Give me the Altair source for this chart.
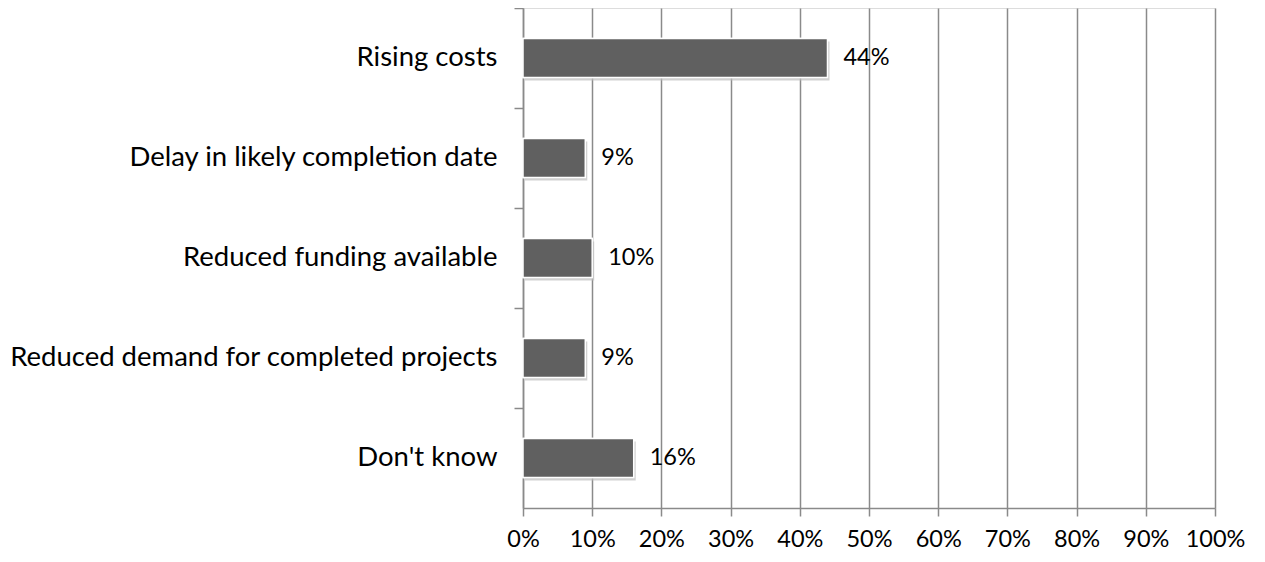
import altair as alt
import pandas as pd

categories = ["Rising costs", "Delay in likely completion date", "Reduced funding available",
              "Reduced demand for completed projects", "Don't know"]
values = [0.44, 0.09, 0.10, 0.09, 0.16]
x_ticks = [0, 0.1, 0.2, 0.3, 0.4, 0.5, 0.6, 0.7, 0.8, 0.9, 1.0]

df = pd.DataFrame({"category": categories, "value": values})
df["label"] = [f"{round(v*100)}%" for v in values]

FONT = "Lato"
GRID = "#8a8a8a"
W, H = 692, 500
BAR = 39

y_scale = alt.Scale(paddingInner=0, paddingOuter=0)
y_enc = alt.Y("category:N", sort=categories, title=None, scale=y_scale,
              axis=alt.Axis(bandPosition=0, tickSize=9, tickColor=GRID, tickWidth=1.5,
                            domainColor=GRID, domainWidth=1.5, labelPadding=17,
                            labelFont=FONT, labelFontSize=27.5, labelColor="#000000",
                            labelLimit=700, grid=False))
x_scale = alt.Scale(domain=[0, 1])
x_enc = alt.X("value:Q", scale=x_scale, title=None,
              axis=alt.Axis(values=x_ticks, format=".0%", tickSize=8, tickColor=GRID,
                            tickWidth=1.5, domainColor=GRID, domainWidth=1.5,
                            gridColor=GRID, gridWidth=1.5, gridOpacity=1,
                            labelOverlap=False, labelFlush=False,
                            labelFont=FONT, labelFontSize=23.5, labelColor="#000000",
                            labelPadding=11))

base = alt.Chart(df)
y_plain = alt.Y("category:N", sort=categories, scale=y_scale)
x_plain = alt.X("value:Q", scale=x_scale)

shadow = base.mark_bar(color="#bdbdbd", opacity=0.7, size=BAR, xOffset=2, yOffset=3,
                       x2Offset=2).encode(y=y_plain, x=x_plain)
bars = base.mark_bar(color="#606060", stroke="#ffffff", strokeWidth=1.5, size=BAR).encode(
    y=y_enc, x=x_enc,
)
bars_top = base.mark_bar(color="#606060", stroke="#ffffff", strokeWidth=1.5, size=BAR).encode(
    y=y_plain, x=x_plain,
)
text = base.mark_text(align="left", dx=16, font=FONT, fontSize=23.5, color="#000000").encode(
    y=y_plain, x=x_plain, text="label:N",
)

chart = alt.layer(bars, shadow, bars_top, text).properties(
    width=W, height=H,
    autosize=alt.AutoSizeParams(type="none"),
    padding={"left": 515, "top": 0, "right": 40, "bottom": 46},
).configure_view(stroke=None).configure(background="#ffffff")

chart.save("out.html", embed_options={"renderer": "svg", "actions": False})
